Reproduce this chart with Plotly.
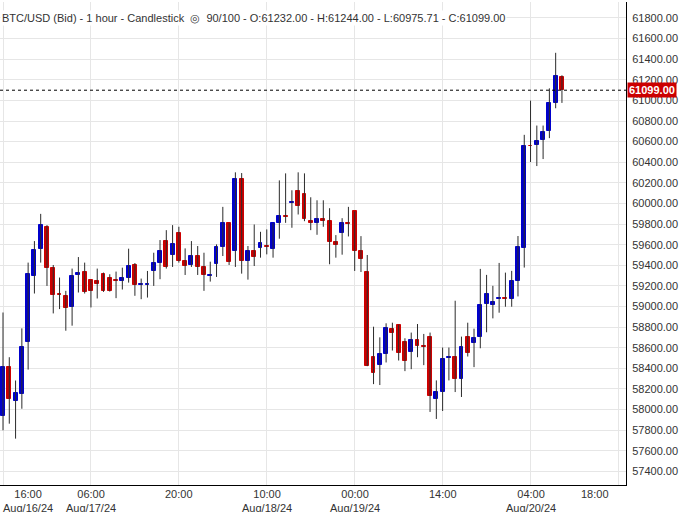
import plotly.graph_objects as go

opens = [57934,58411,58082,58147,58659,59297,59561,59774,59374,59123,59104,58991,59310,59335,59258,59248,59316,59278,59261,59248,
         59281,59403,59213,59213,59345,59426,59635,59500,59716,59442,59406,59490,59384,59300,59416,59580,59809,59542,60234,59445,
         59538,59571,59587,59561,59812,59877,60005,60118,60089,59828,59812,59848,59828,59625,59716,59809,59925,59542,59336,58515,
         58431,58537,58785,58824,58660,58556,58679,58621,58708,58102,58170,58502,58515,58296,58708,58643,58701,59020,59011,59069,
         59085,59069,59249,59571,60560,60566,60615,60705,60979,61232]
highs = [58942,58508,58282,58788,59426,59635,59899,59790,59403,59281,59152,59368,59480,59426,59258,59368,59329,59313,59339,59377,
         59561,59422,59271,59345,59522,59645,59741,59790,59774,59564,59635,59587,59522,59435,59603,59967,59809,60302,60295,59587,
         59796,59725,59748,59809,60224,60292,60128,60302,60292,60060,60031,60031,59954,59693,59857,59967,59925,59683,59500,58804,
         58701,58837,58843,58824,58692,58747,58830,58734,58747,58283,58602,58602,59056,58708,58843,58785,59365,59307,59201,59423,
         59329,59346,59684,60666,60998,60756,60756,61117,61462,61244]
lows = [57799,57863,57718,58008,58388,59126,59426,59200,58933,58975,58765,58814,59136,59126,58991,59078,59142,59145,59081,59165,
        59232,59104,59071,59087,59200,59265,59368,59384,59426,59306,59384,59306,59152,59242,59287,59490,59403,59384,59319,59261,
        59393,59474,59506,59474,59658,59812,59764,59893,59828,59741,59696,59774,59410,59474,59503,59680,59345,59335,58421,58247,
        58238,58457,58573,58476,58373,58392,58508,58431,57977,57909,57986,58283,58170,58122,58515,58412,58595,58750,58885,58940,
        58998,58998,59098,59378,60402,60363,60431,60634,60924,60975.71]
closes = [58411,58099,58160,58604,59319,59548,59790,59374,59113,59116,58981,59297,59326,59142,59152,59223,59155,59155,59252,59281,
          59393,59213,59220,59220,59422,59538,59384,59606,59445,59397,59490,59384,59310,59306,59577,59809,59435,60234,59445,59538,
          59484,59616,59580,59809,59877,59870,60012,59976,59851,59812,59848,59828,59629,59600,59809,59803,59542,59464,58421,58354,
          58540,58795,58740,58547,58469,58679,58614,58605,58131,58167,58495,58515,58296,58611,58547,58698,59017,59123,59046,59085,
          59069,59249,59578,60560,60553,60611,60692,60979,61233,61099]

tick_idx = [0, 14, 28, 42, 56, 70, 84, 98]
tick_text = ["16:00<br>Aug/16/24", "06:00<br>Aug/17/24", "20:00", "10:00<br>Aug/18/24",
             "00:00<br>Aug/19/24", "14:00", "04:00<br>Aug/20/24", "18:00"]
title = "BTC/USD (Bid) - 1 hour - Candlestick  \u25CE  90/100 - O:61232.00 - H:61244.00 - L:60975.71 - C:61099.00"

FONT = "Liberation Sans"
BLUE, RED = "#0000cc", "#cc0000"
fig = go.Figure()
wx, wy = [], []
for i, (h, l) in enumerate(zip(highs, lows)):
    wx += [i, i, None]; wy += [l, h, None]
fig.add_trace(go.Scatter(x=wx, y=wy, mode="lines", line=dict(color="#2b2b2b", width=1), hoverinfo="skip"))
for up, col in [(True, BLUE), (False, RED)]:
    xs = [i for i in range(len(opens)) if (closes[i] >= opens[i]) == up]
    fig.add_trace(go.Bar(x=xs, base=[opens[i] for i in xs], y=[closes[i] - opens[i] for i in xs],
                         width=0.62, marker=dict(color=col, line=dict(color=col, width=1))))

last = closes[-1]
fig.add_hline(y=last, line=dict(color="black", width=1, dash="dot"))

ann = []
for i, (t, v) in enumerate(zip(tick_text, tick_idx)):
    xpos = v
    if i == 0: xpos = 4
    if i == len(tick_idx) - 1: xpos = 94.3
    ann.append(dict(x=xpos, y=0, xref="x", yref="paper", yanchor="top", yshift=-1, text=t, showarrow=False,
                    font=dict(size=11, color="#333", family=FONT)))
ann.append(dict(x=1, xref="paper", xanchor="left", xshift=3, y=57200, yref="y", yanchor="middle",
                text="57200.00", showarrow=False, font=dict(size=11, color="#333", family=FONT)))
ann.append(dict(x=1, xref="paper", xanchor="left", xshift=1, y=last, yref="y",
                text="<b>%.2f</b>" % last, showarrow=False, bgcolor=RED, borderpad=1,
                font=dict(size=11, color="white", family=FONT)))
ann.append(dict(x=0, xref="paper", xanchor="left", y=61800, yref="y", yanchor="middle",
                text=title, showarrow=False, bgcolor="white",
                font=dict(size=11, color="#333", family=FONT)))

fig.update_layout(
    width=688, height=512, margin=dict(l=0, r=62, t=2, b=27, autoexpand=False),
    paper_bgcolor="white", plot_bgcolor="white", showlegend=False, bargap=0,
    annotations=ann,
    xaxis=dict(range=[-0.48, 99.2], tickvals=tick_idx, showticklabels=False, showgrid=True, automargin=False,
               gridcolor="#e6e6e6", zeroline=False, showline=True, linecolor="black"),
    yaxis=dict(side="right", range=[57268, 61955], dtick=200, tick0=57200, tickformat=".2f", automargin=False,
               showgrid=True, gridcolor="#e6e6e6", zeroline=False, showline=True, linecolor="black",
               ticks="", ticklabelstandoff=3,
               tickfont=dict(size=11, color="#333", family=FONT)),
)
fig.write_html("out.html", config={"displayModeBar": False},
               post_script="document.body.style.margin='0';document.body.style.overflow='hidden';")
